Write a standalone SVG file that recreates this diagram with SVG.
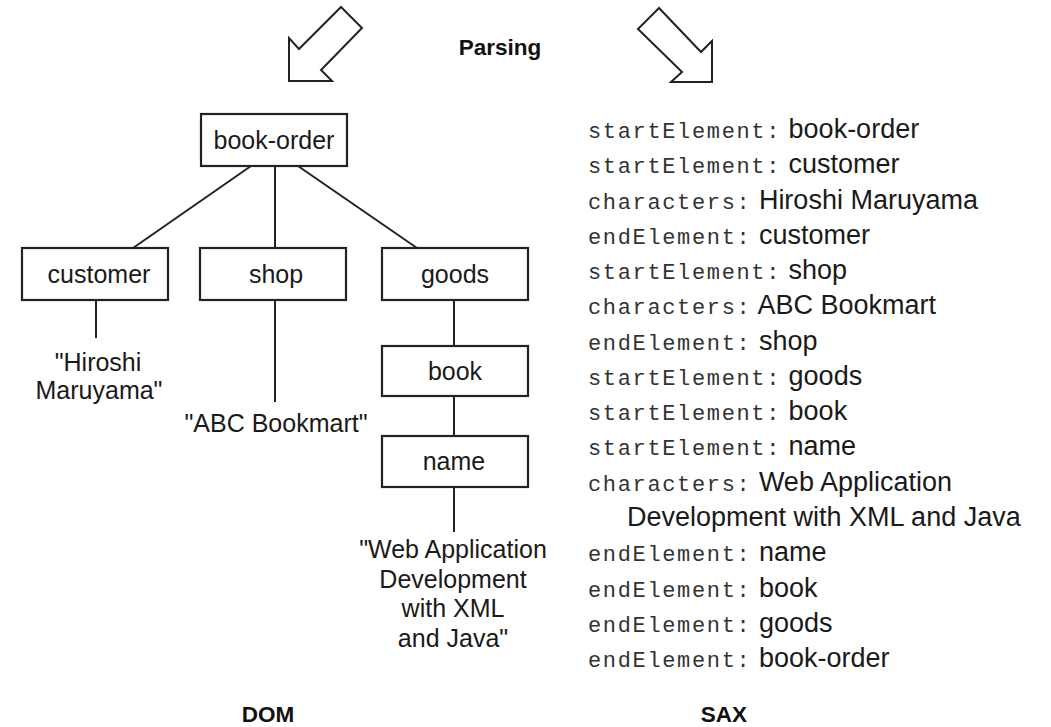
<svg xmlns="http://www.w3.org/2000/svg" width="1051" height="727" viewBox="0 0 1051 727">
  <style>
    .box { fill: #fff; stroke: #222; stroke-width: 2.2; }
    .edge { stroke: #222; stroke-width: 2; fill: none; }
    .big-arrow { fill: #fff; stroke: #222; stroke-width: 2; stroke-linejoin: miter; }
    .t { font-family: "Liberation Sans", Arial, sans-serif; font-size: 25px; fill: #1a1a1a; text-anchor: middle; }
    .h { font-family: "Liberation Sans", Arial, sans-serif; font-weight: bold; font-size: 22.5px; fill: #111; text-anchor: middle; }
    .ev { font-family: "Liberation Sans", Arial, sans-serif; font-size: 27px; fill: #1a1a1a; }
    .m { font-family: "Liberation Mono", "Courier New", monospace; font-size: 22px; letter-spacing: 1.65px; fill: #333; }
  </style>

  <rect width="1051" height="727" fill="#fff"/>

  <!-- parsing arrows and caption -->
  <g id="parsing">
    <polygon class="big-arrow" points="341,7 362,28 321,70 332,81 289,81 289,38 299,49"/>
    <polygon class="big-arrow" points="659,8 638,29 682,72 671,82 712,82 712,41 701,52"/>
    <text class="h" x="500" y="55">Parsing</text>
  </g>

  <!-- DOM tree edges -->
  <g id="connectors">
    <line class="edge" x1="251" y1="166" x2="133" y2="248"/>
    <line class="edge" x1="275" y1="166" x2="275" y2="248"/>
    <line class="edge" x1="298" y1="166" x2="417" y2="248"/>
    <line class="edge" x1="96" y1="300" x2="96" y2="338"/>
    <line class="edge" x1="275" y1="300" x2="275" y2="402"/>
    <line class="edge" x1="454" y1="300" x2="454" y2="346"/>
    <line class="edge" x1="454" y1="396" x2="454" y2="436"/>
    <line class="edge" x1="454" y1="487" x2="454" y2="532"/>
  </g>

  <!-- DOM tree nodes -->
  <g id="node-book-order">
    <rect class="box" x="201" y="114" width="146" height="52"/>
    <text class="t" x="274" y="149">book-order</text>
  </g>
  <g id="node-customer">
    <rect class="box" x="22" y="248" width="146" height="52"/>
    <text class="t" x="99" y="283">customer</text>
  </g>
  <g id="node-shop">
    <rect class="box" x="200" y="248" width="146" height="52"/>
    <text class="t" x="276" y="283">shop</text>
  </g>
  <g id="node-goods">
    <rect class="box" x="382" y="248" width="146" height="52"/>
    <text class="t" x="455" y="283">goods</text>
  </g>
  <g id="node-book">
    <rect class="box" x="382" y="346" width="146" height="50"/>
    <text class="t" x="455" y="380">book</text>
  </g>
  <g id="node-name">
    <rect class="box" x="382" y="436" width="146" height="51"/>
    <text class="t" x="454" y="470">name</text>
  </g>

  <!-- text node values -->
  <g id="value-customer">
    <text class="t" x="98" y="371">"Hiroshi</text>
    <text class="t" x="99" y="399">Maruyama"</text>
  </g>
  <g id="value-shop">
    <text class="t" x="276" y="432">"ABC Bookmart"</text>
  </g>
  <g id="value-name">
    <text class="t" x="453" y="558">"Web Application</text>
    <text class="t" x="453" y="588">Development</text>
    <text class="t" x="453" y="617">with XML</text>
    <text class="t" x="453" y="647">and Java"</text>
  </g>

  <!-- SAX event stream -->
  <g id="sax-events">
    <text class="ev" x="588" y="138"><tspan class="m">startElement:</tspan> book-order</text>
    <text class="ev" x="588" y="173.3"><tspan class="m">startElement:</tspan> customer</text>
    <text class="ev" x="588" y="208.5"><tspan class="m">characters:</tspan> Hiroshi Maruyama</text>
    <text class="ev" x="588" y="243.8"><tspan class="m">endElement:</tspan> customer</text>
    <text class="ev" x="588" y="279.1"><tspan class="m">startElement:</tspan> shop</text>
    <text class="ev" x="588" y="314.4"><tspan class="m">characters:</tspan> ABC Bookmart</text>
    <text class="ev" x="588" y="349.6"><tspan class="m">endElement:</tspan> shop</text>
    <text class="ev" x="588" y="384.9"><tspan class="m">startElement:</tspan> goods</text>
    <text class="ev" x="588" y="420.2"><tspan class="m">startElement:</tspan> book</text>
    <text class="ev" x="588" y="455.4"><tspan class="m">startElement:</tspan> name</text>
    <text class="ev" x="588" y="490.7"><tspan class="m">characters:</tspan> Web Application</text>
    <text class="ev" x="627" y="526">Development with XML and Java</text>
    <text class="ev" x="588" y="561.2"><tspan class="m">endElement:</tspan> name</text>
    <text class="ev" x="588" y="596.5"><tspan class="m">endElement:</tspan> book</text>
    <text class="ev" x="588" y="631.8"><tspan class="m">endElement:</tspan> goods</text>
    <text class="ev" x="588" y="667"><tspan class="m">endElement:</tspan> book-order</text>
  </g>

  <!-- column captions -->
  <g id="captions">
    <text class="h" x="268" y="722">DOM</text>
    <text class="h" x="724" y="722">SAX</text>
  </g>
</svg>
